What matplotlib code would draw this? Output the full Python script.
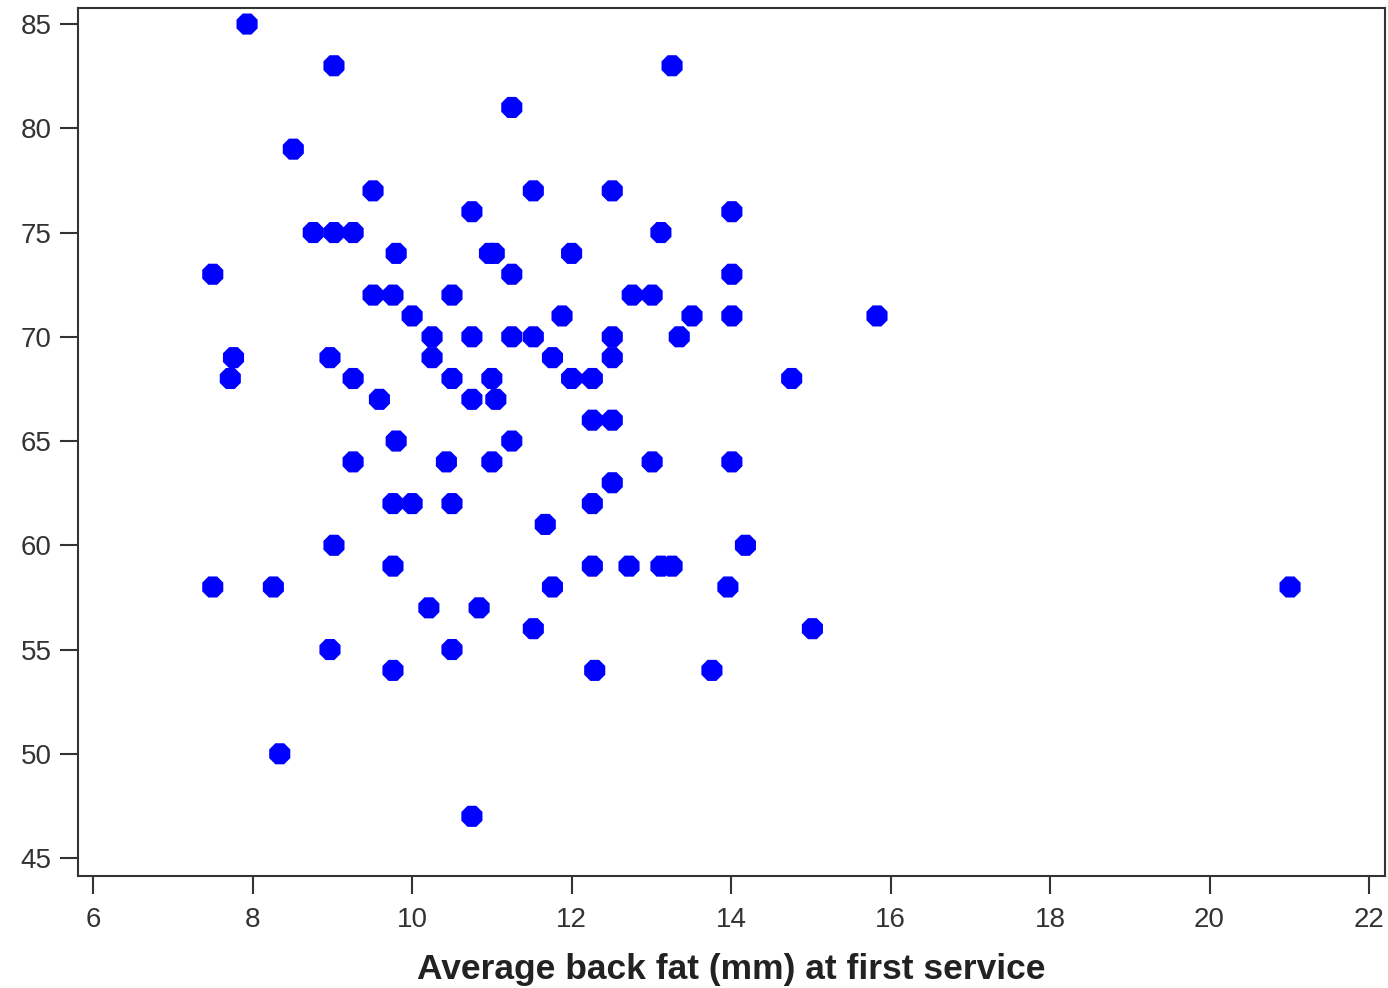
import matplotlib.pyplot as plt

plt.rcParams["font.family"] = ["Liberation Sans", "DejaVu Sans"]

# average back fat (mm) at first service vs response
backfat = [
    7.93, 9.02, 13.26, 11.25, 8.51, 9.51, 11.52, 12.51, 10.75, 14.01,
    8.76, 9.02, 9.26, 13.12, 9.80, 10.97, 11.03, 12.0, 7.5, 11.25,
    14.01, 9.51, 9.76, 10.5, 12.76, 13.01, 11.88, 10.0, 13.51, 14.01,
    15.83, 10.25, 10.75, 11.25, 11.52, 12.51, 13.35, 7.76, 8.97, 10.25,
    11.76, 12.51, 7.72, 9.26, 10.5, 11.0, 12.0, 12.26, 14.76, 9.59,
    10.75, 11.05, 9.8, 11.25, 12.26, 12.51, 9.26, 10.43, 11.0, 13.01,
    14.01, 12.51, 9.76, 10.0, 10.5, 12.26, 11.67, 9.02, 14.18, 9.76,
    12.26, 12.72, 13.12, 13.26, 7.5, 8.26, 11.76, 13.96, 21.01, 10.21,
    10.84, 11.52, 15.02, 8.97, 10.5, 9.76, 12.29, 13.76, 8.34, 10.75,
]
response = [
    85, 83, 83, 81, 79, 77, 77, 77, 76, 76,
    75, 75, 75, 75, 74, 74, 74, 74, 73, 73,
    73, 72, 72, 72, 72, 72, 71, 71, 71, 71,
    71, 70, 70, 70, 70, 70, 70, 69, 69, 69,
    69, 69, 68, 68, 68, 68, 68, 68, 68, 67,
    67, 67, 65, 65, 66, 66, 64, 64, 64, 64,
    64, 63, 62, 62, 62, 62, 61, 60, 60, 59,
    59, 59, 59, 59, 58, 58, 58, 58, 58, 57,
    57, 56, 56, 55, 55, 54, 54, 54, 50, 47,
]
xticks = [6, 8, 10, 12, 14, 16, 18, 20, 22]
yticks = [45, 50, 55, 60, 65, 70, 75, 80, 85]

fig = plt.figure(figsize=(13.88, 9.88), dpi=100)
ax = fig.add_axes([0.0562, 0.1134, 0.9416, 0.8785])

ax.scatter(backfat, response, s=270, marker="8", color="#0000ff", edgecolors="none")

ax.set_xlim(5.81, 22.2)
ax.set_ylim(44.14, 85.77)
ax.set_xticks(xticks)
ax.set_yticks(yticks)
ax.tick_params(direction="out", length=13, width=1.5, labelsize=20, colors="#333333")
ax.tick_params(axis="x", pad=9)
ax.tick_params(axis="y", pad=6)
for s in ax.spines.values():
    s.set_linewidth(1.5)
    s.set_color("#333333")

ax.set_xlabel("Average back fat (mm) at first service", fontsize=25.5, fontweight="bold",
              color="#222222", labelpad=15)

fig.savefig("out.png", dpi=100)
